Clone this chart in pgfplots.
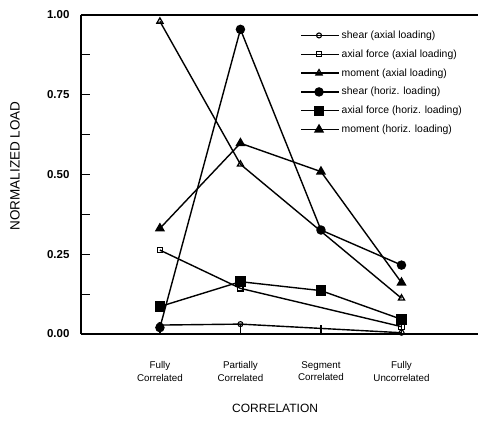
\documentclass[border=0pt]{standalone}
\usepackage{fontspec}
\setmainfont{Liberation Sans}
\usepackage{pgfplots}
\pgfplotsset{compat=1.18}
\usetikzlibrary{calc}
\begin{document}
\begin{tikzpicture}
\begin{axis}[name=ax,
  scale only axis, width=397pt, height=319pt,
  xmin=-0.98, xmax=3.95, ymin=0, ymax=1,
  axis lines=left, axis line style={-, line width=1.2pt},
  clip=false,
  xtick={0,1,2,3},
  xticklabels={{Fully\\Correlated},{Partially\\Correlated},{Segment\\Correlated},{Fully\\Uncorrelated}},
  xticklabel style={align=center, font=\fontsize{9.8}{12.5}\selectfont, yshift=-24pt},
  ytick={0,0.25,0.5,0.75,1},
  yticklabels={0.00,0.25,0.50,0.75,1.00},
  minor ytick={0.125,0.375,0.625,0.875},
  yticklabel style={font=\fontsize{11.5}{13}\selectfont\bfseries, xshift=-8pt},
  tick align=inside, major tick length=9pt, minor tick length=9pt,
  tick style={line width=1.2pt, black},
  ylabel={NORMALIZED LOAD},
  every axis y label/.style={at={(rel axis cs:0,0.527)}, shift={(-66pt,0pt)}, rotate=90, anchor=center,
    font=\fontsize{13.5}{15}\selectfont},
  xlabel={CORRELATION},
  every axis x label/.style={at={(rel axis cs:0.489,0)}, shift={(0pt,-74pt)}, anchor=center,
    font=\fontsize{12}{14}\selectfont},
  every axis plot/.append style={line width=1.4pt, black},
  legend style={at={(rel axis cs:0.552,0.957)}, anchor=north west, draw=none, fill=none,
    font=\fontsize{10.4}{12}\selectfont, row sep=5.8pt, inner sep=0pt,
    nodes={inner sep=2pt}},
  legend cell align=left,
  legend image code/.code={\draw[mark repeat=2,mark phase=2] plot coordinates {(0pt,0pt)(18pt,0pt)(38pt,0pt)};},
]
\addplot[mark=o, mark size=2.5pt, mark options={solid, fill=white, line width=1.1pt}] coordinates {(0,0.028)(1,0.031)(3,0.004)};
\addlegendentry{shear (axial loading)}
\addplot[mark=square, mark size=2.6pt, mark options={solid, fill=white, line width=1.1pt}] coordinates {(0,0.263)(1,0.143)(3,0.023)};
\addlegendentry{axial force (axial loading)}
\addplot[mark=triangle, mark size=3.5pt, mark options={solid, fill=white, line width=1.3pt}] coordinates {(0,0.98)(1,0.532)(3,0.112)};
\addlegendentry{moment (axial loading)}
\addplot[mark=*, mark size=4pt] coordinates {(0,0.02)(1,0.955)(2,0.326)(3,0.216)};
\addlegendentry{shear (horiz. loading)}
\addplot[mark=square*, mark size=4.5pt] coordinates {(0,0.086)(1,0.164)(2,0.136)(3,0.046)};
\addlegendentry{axial force (horiz. loading)}
\addplot[mark=triangle*, mark size=4.5pt] coordinates {(0,0.331)(1,0.598)(2,0.509)(3,0.161)};
\addlegendentry{moment (horiz. loading)}
\draw[line width=1.2pt] (rel axis cs:0,1) -- (rel axis cs:1,1);
\end{axis}
\pgfresetboundingbox
\path ($(ax.south west)+(-81pt,-87pt)$) rectangle ($(ax.north east)+(0pt,15pt)$);
\end{tikzpicture}
\end{document}
